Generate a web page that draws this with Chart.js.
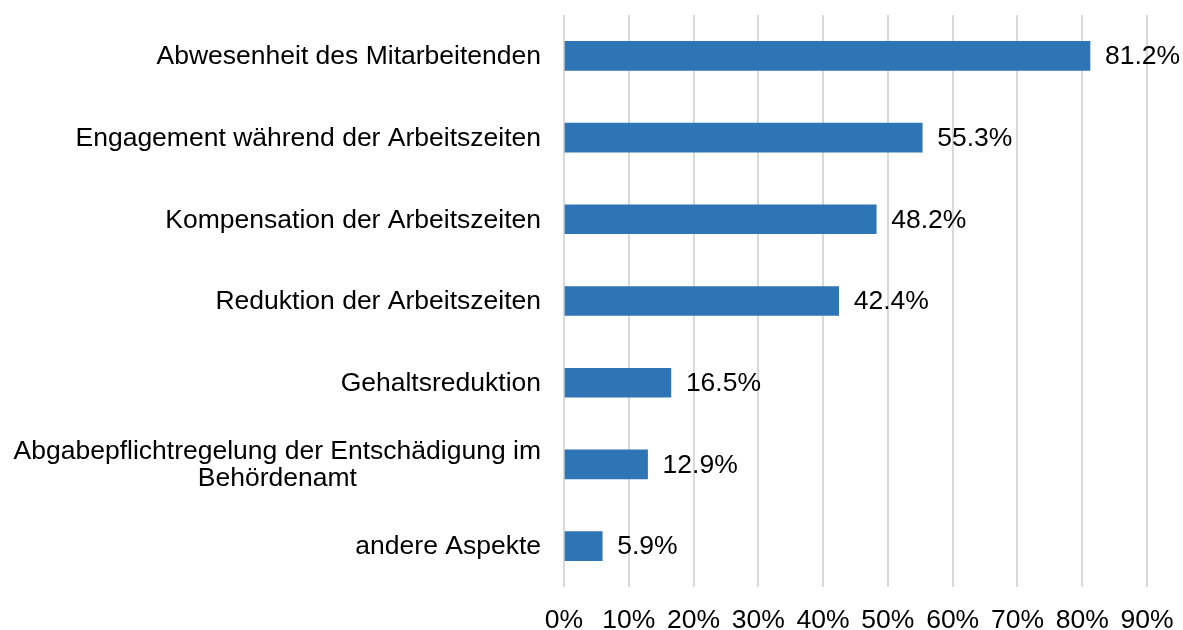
<!DOCTYPE html>
<html>
<head>
<meta charset="utf-8">
<script src="https://cdn.jsdelivr.net/npm/chart.js@4"></script>
<style>
html,body{margin:0;padding:0;background:#fff;}
#wrap{width:1183px;height:630px;position:relative;}
</style>
</head>
<body>
<div id="wrap"><canvas id="c" width="1183" height="630"></canvas></div>
<script>
const categories = [
  ["Abwesenheit des Mitarbeitenden"],
  ["Engagement während der Arbeitszeiten"],
  ["Kompensation der Arbeitszeiten"],
  ["Reduktion der Arbeitszeiten"],
  ["Gehaltsreduktion"],
  ["Abgabepflichtregelung der Entschädigung im", "Behördenamt"],
  ["andere Aspekte"]
];
const values = [81.2, 55.3, 48.2, 42.4, 16.5, 12.9, 5.9];
const xTicks = [0, 10, 20, 30, 40, 50, 60, 70, 80, 90];

const FONT = "'Liberation Sans', Arial, sans-serif";
const FS = 26.5;

const labelPlugin = {
  id: 'labels',
  afterDatasetsDraw(chart) {
    const ctx = chart.ctx;
    const y = chart.scales.y, x = chart.scales.x;
    ctx.save();
    ctx.font = FS + 'px ' + FONT;
    ctx.fillStyle = '#000';
    ctx.textBaseline = 'middle';
    const right = chart.chartArea.left - 23;
    categories.forEach((lines, i) => {
      const cy = y.getPixelForValue(i);
      const widths = lines.map(l => ctx.measureText(l).width);
      const maxW = Math.max(...widths);
      const lh = 27;
      const startY = cy - (lines.length - 1) * lh / 2;
      lines.forEach((l, j) => {
        if (lines.length === 1) {
          ctx.textAlign = 'right';
          ctx.fillText(l, right, startY + j * lh + 1);
        } else {
          ctx.textAlign = 'center';
          ctx.fillText(l, right - maxW / 2, startY + j * lh + 1);
        }
      });
    });
    ctx.textAlign = 'left';
    values.forEach((v, i) => {
      const px = x.getPixelForValue(v);
      const cy = y.getPixelForValue(i);
      ctx.fillText(v.toFixed(1) + '%', px + 15, cy + 1);
    });
    ctx.restore();
  }
};

new Chart(document.getElementById('c'), {
  type: 'bar',
  data: {
    labels: categories.map(c => c.join(' ')),
    datasets: [{
      data: values,
      backgroundColor: '#2E75B6',
      borderWidth: 0,
      barThickness: 29
    }]
  },
  options: {
    indexAxis: 'y',
    responsive: false,
    animation: false,
    layout: { padding: { top: 15, right: 36, bottom: 0, left: 0 } },
    plugins: { legend: { display: false }, tooltip: { enabled: false } },
    scales: {
      x: {
        min: 0, max: 90,
        afterBuildTicks(scale) { scale.ticks = xTicks.map(v => ({ value: v })); },
        afterFit(scale) { scale.height = 43; scale.paddingRight = 0; scale.paddingLeft = 0; },
        grid: { color: '#d9d9d9', lineWidth: 2, drawTicks: false },
        border: { display: false },
        ticks: {
          padding: 18,
          color: '#000',
          font: { family: FONT, size: FS },
          callback: v => v + '%'
        }
      },
      y: {
        afterFit(scale) { scale.width = 564; },
        grid: { display: false, drawTicks: false },
        border: { display: false },
        ticks: { display: false }
      }
    }
  },
  plugins: [labelPlugin]
});
</script>
</body>
</html>
